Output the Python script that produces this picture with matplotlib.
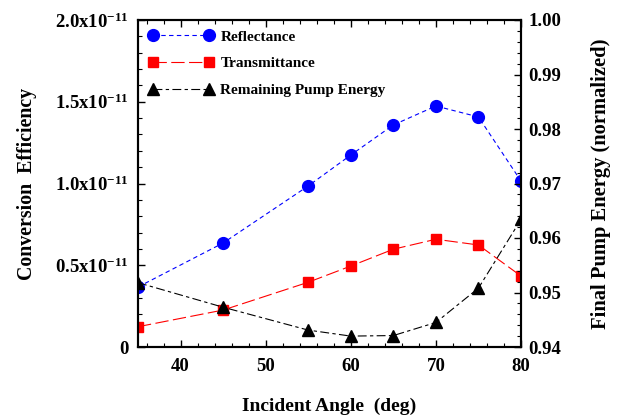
import matplotlib
matplotlib.use("Agg")
import matplotlib.pyplot as plt
from matplotlib.ticker import MultipleLocator, FixedLocator, FuncFormatter

plt.rcParams['font.family'] = ['Liberation Serif', 'DejaVu Serif']
plt.rcParams['font.weight'] = 'bold'
plt.rcParams['mathtext.fontset'] = 'custom'
plt.rcParams['mathtext.rm'] = 'Liberation Serif:bold'
plt.rcParams['mathtext.bf'] = 'Liberation Serif:bold'
plt.rcParams['mathtext.it'] = 'Liberation Serif:bold'

# Incident angle (deg)
angles = [35, 45, 55, 60, 65, 70, 75, 80]
# Conversion efficiency (units of 1e-11)
reflectance = [0.367, 0.636, 0.985, 1.174, 1.358, 1.474, 1.407, 1.015]
transmittance = [0.124, 0.226, 0.396, 0.495, 0.598, 0.659, 0.624, 0.434]
# Final pump energy (normalized)
pump_energy = [0.9518, 0.9473, 0.9431, 0.9420, 0.9421, 0.9445, 0.9508, 0.9634]

# Tick positions
x_ticks = [40, 50, 60, 70, 80]
eff_ticks = [0.0, 0.5, 1.0, 1.5, 2.0]
energy_ticks = [0.94, 0.95, 0.96, 0.97, 0.98, 0.99, 1.00]

scale = 1e-11

fig = plt.figure(figsize=(6.21, 4.17), dpi=100)
ax = fig.add_axes([138 / 621, 70 / 417, 383 / 621, 327 / 417])
ax2 = ax.twinx()

ax.plot(angles, [v * scale for v in reflectance], color='blue', lw=0.8,
        dashes=(4, 3), marker='o', ms=8.5, label='Reflectance')
ax.plot(angles, [v * scale for v in transmittance], color='red', lw=0.8,
        dashes=(12, 4), marker='s', ms=7.5, label='Transmittance')
ax2.plot(angles, pump_energy, color='black', lw=0.8,
         dashes=(8, 3, 3, 3), marker='^', ms=8, label='Remaining Pump Energy')

ax.set_xlim(35, 80)
ax.set_ylim(0, 2.0e-11)
ax2.set_ylim(0.94, 1.00)

ax.xaxis.set_major_locator(FixedLocator(x_ticks))
ax.xaxis.set_minor_locator(MultipleLocator(2))
ax.yaxis.set_major_locator(FixedLocator([t * scale for t in eff_ticks]))
ax.yaxis.set_minor_locator(MultipleLocator(0.1e-11))
ax2.yaxis.set_major_locator(FixedLocator(energy_ticks))
ax2.yaxis.set_minor_locator(MultipleLocator(0.002))


def left_fmt(v, pos):
    if abs(v) < 1e-15:
        return '0'
    return r'$\mathbf{%.1fx10^{-11}}$' % (v / scale)


ax.yaxis.set_major_formatter(FuncFormatter(left_fmt))
ax2.yaxis.set_major_formatter(FuncFormatter(lambda v, p: '%.2f' % v))

ax.tick_params(axis='both', which='both', direction='in', labelsize=13.5)
ax.tick_params(axis='x', which='both', top=True)
ax.tick_params(axis='y', which='both', right=False, pad=6.5)
ax.tick_params(which='major', length=5, width=1)
ax.tick_params(which='minor', length=3, width=0.8)
ax2.tick_params(axis='y', which='both', direction='in', labelsize=13.5, pad=5.5)
ax2.tick_params(which='major', length=5, width=1)
ax2.tick_params(which='minor', length=3, width=0.8)
ax.tick_params(axis='x', pad=8)

for a in (ax, ax2):
    for s in a.spines.values():
        s.set_linewidth(1.5)

ax.set_xlabel('Incident Angle  (deg)', fontsize=14, fontweight='bold', labelpad=16.5)
ax.set_ylabel('Conversion  Efficiency', fontsize=14.3, fontweight='bold', labelpad=13)
ax2.set_ylabel('Final Pump Energy (normalized)', fontsize=14.8, fontweight='bold', labelpad=21)

h1, l1 = ax.get_legend_handles_labels()
h2, l2 = ax2.get_legend_handles_labels()
ax.legend(h1 + h2, l1 + l2, loc='upper left', frameon=False, numpoints=2,
          handlelength=4.3, handletextpad=0.45, labelspacing=0.85,
          borderaxespad=0.1, borderpad=0.55, prop={'weight': 'bold', 'size': 11})

fig.savefig('out.png', dpi=100)
